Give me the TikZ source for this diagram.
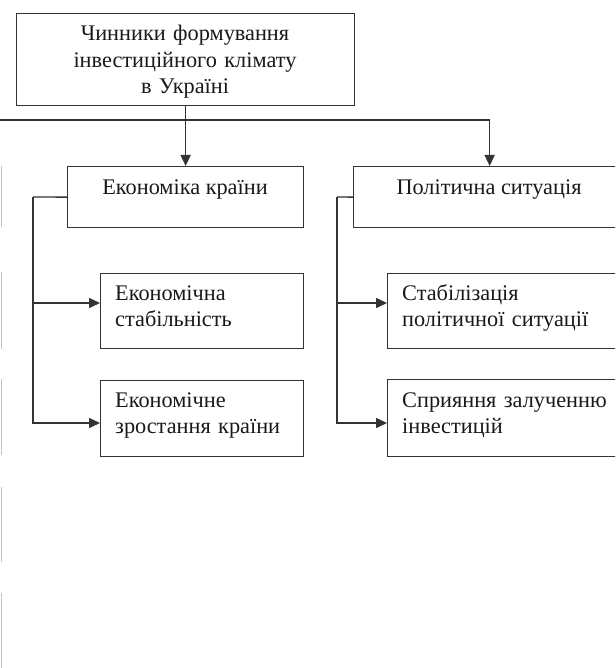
\documentclass[tikz,border=0pt]{standalone}
\usepackage{fontspec}
\setmainfont{Liberation Serif}
\usetikzlibrary{arrows.meta,calc}
\definecolor{lc}{HTML}{333333}
\definecolor{ghost}{HTML}{C4C4C4}
\begin{document}
\begin{tikzpicture}[x=1pt,y=-1pt,
  box/.style={draw=lc, line width=1.3pt, inner sep=0pt, anchor=north west},
  txt/.style={inner sep=0pt, font=\fontsize{22.3}{26.3}\selectfont, text=black!90},
  ltxt/.style={txt, anchor=base west, text width=220pt, align=left},
  conn/.style={draw=lc, line width=1.3pt},
  arr/.style={conn, -{Triangle[length=11pt,width=10pt]}},
  ghostline/.style={draw=ghost, line width=1.3pt}]
\useasboundingbox (0,0) rectangle (615,668);
\clip (0,0) rectangle (615,668);
% faint edges of cropped boxes on the left
\draw[ghostline] (1.5,166) -- (1.5,227);
\draw[ghostline] (1.5,272) -- (1.5,349);
\draw[ghostline] (1.5,379) -- (1.5,455);
\draw[ghostline] (1.5,487) -- (1.5,562);
\draw[ghostline] (1.5,593) -- (1.5,668);
% boxes
\node[box, minimum width=338pt, minimum height=92pt] (top) at (16,13) {};
\node[txt, anchor=base, text width=330pt, align=center] (topt) at (185,41)
  {Чинники формування\\ інвестиційного клімату\\ в Україні};
\node[box, minimum width=236pt, minimum height=61pt] (eco) at (67,166) {};
\node[txt, anchor=base] (ecot) at (185,195) {Економіка країни};
\node[box, minimum width=272pt, minimum height=61pt] (pol) at (353,166) {};
\node[txt, anchor=base] (polt) at (489,195) {Політична ситуація};
\node[box, minimum width=203pt, minimum height=75pt] (ecs) at (100,273) {};
\node[ltxt] (ecst) at (115,300) {Економічна\\ стабільність};
\node[box, minimum width=203pt, minimum height=76pt] (ezr) at (100,380) {};
\node[ltxt] (ezrt) at (115,407) {Економічне\\ зростання країни};
\node[box, minimum width=240pt, minimum height=75pt] (pst) at (387,273) {};
\node[ltxt, text width=240pt] (pstt) at (402,300) {Стабілізація\\ політичної ситуації};
\node[box, minimum width=240pt, minimum height=77pt] (psp) at (387,379) {};
\node[ltxt, text width=240pt] (pspt) at (402,407) {Сприяння залученню\\ інвестицій};
% connectors
\coordinate (hstart) at (0,120);
\draw[arr] (top.south) -- (eco.north);
\draw[arr] (hstart) -| (pol.north);
\coordinate (ebus) at (33,197);
\draw[conn] (eco.west) -- (ebus);
\draw[arr] (ebus) |- ($(ecs.north west)+(0,30)$);
\draw[arr] (ebus) |- ($(ezr.north west)+(0,43)$);
\coordinate (pbus) at (337,197);
\draw[conn] (pol.west) -- (pbus);
\draw[arr] (pbus) |- ($(pst.north west)+(0,30)$);
\draw[arr] (pbus) |- ($(psp.north west)+(0,44)$);
\end{tikzpicture}
\end{document}
